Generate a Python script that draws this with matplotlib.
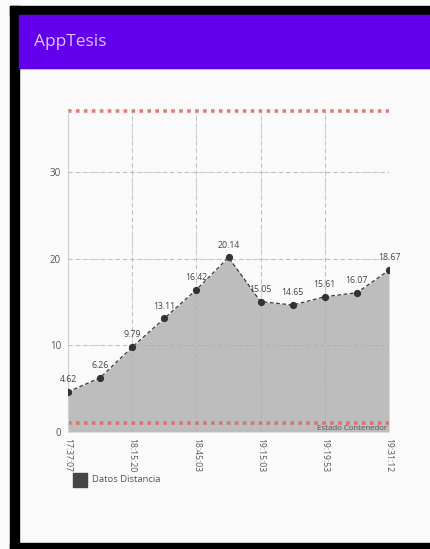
import matplotlib
matplotlib.use("Agg")
import matplotlib.pyplot as plt
from matplotlib.patches import Rectangle

plt.rcParams['font.family'] = ['Open Sans', 'DejaVu Sans']

# Distance readings (one per sample) and their timestamps
valores = [4.62, 6.26, 9.79, 13.11, 16.42, 20.14, 15.05, 14.65, 15.61, 16.07, 18.67]
etiquetas_x = ["17:37:07", "", "18:15:20", "", "18:45:03", "",
               "19:15:03", "", "19:19:53", "", "19:31:12"]
limite_superior = 37
limite_inferior = 1
yticks = [0, 10, 20, 30]
titulo = "AppTesis"
leyenda = "Datos Distancia"
nombre_limite = "Estado Contenedor"

W, H = 430, 549
fig = plt.figure(figsize=(W / 100, H / 100), dpi=100)
fig.patch.set_facecolor("#fafafa")

def px(x0, y0, x1, y1):
    return [x0 / W, 1 - y1 / H, (x1 - x0) / W, (y1 - y0) / H]

# Device frame and app bar
frame = fig.add_axes([0, 0, 1, 1])
frame.set_xlim(0, W)
frame.set_ylim(H, 0)
frame.axis("off")
frame.add_patch(Rectangle((10, 6), W, 9, color="black", zorder=1))
frame.add_patch(Rectangle((10, 6), 9, H, color="black", zorder=1))
frame.add_patch(Rectangle((10, 543), W, 6, color="black", zorder=1))
frame.add_patch(Rectangle((19, 15), W, 53, color="#6200ee", zorder=2))
for i, a in enumerate([0.10, 0.06, 0.03]):
    frame.add_patch(Rectangle((19, 68 + i), W, 1, color="black", alpha=a, lw=0, zorder=2))
frame.text(34, 42, titulo, color="#dcc3fb", fontsize=12.5, va="center", ha="left", zorder=3)

# Chart
ax = fig.add_axes(px(68, 111.3, 389, 432))
ax.set_facecolor("none")
xs = list(range(len(valores)))
ax.set_xlim(0, len(valores) - 1)
ax.set_ylim(0, limite_superior)

ax.fill_between(xs, valores, 0, color="#bdbdbd", lw=0, zorder=1)
ax.plot(xs, valores, color="#3a3a3a", lw=0.9, ls=(0, (3, 2)), zorder=3)
ax.plot(xs, valores, "o", color="#333333", ms=4.2, zorder=4)
for x, v in zip(xs, valores):
    ax.text(x, v + 0.9, f"{v:g}", ha="center", va="bottom", fontsize=6.3,
            color="#444444", zorder=5)

# Limit lines
for lim in (limite_superior, limite_inferior):
    ax.axhline(lim, color="#e06666", lw=2.6, ls=(0, (1, 1.2)), alpha=0.85,
               zorder=2, clip_on=False)
ax.text(len(valores) - 1 - 0.05, limite_inferior - 0.15, nombre_limite, ha="right",
        va="top", fontsize=5.7, color="#555555", zorder=5)

# Grid
for y in yticks[1:]:
    ax.axhline(y, color="#d2d2d2", lw=0.8, ls=(0, (4, 3)), zorder=0.5)
for x, lab in zip(xs, etiquetas_x):
    if lab:
        ax.axvline(x, color="#d2d2d2", lw=0.8, ls=(0, (4, 3)), zorder=0.5)
for y in yticks[1:]:
    ax.plot([0, len(valores) - 1], [y, y], color="#a0a0a0", lw=0.7,
            ls=(0, (4, 3)), alpha=0.45, zorder=1.5)
for x, lab in zip(xs, etiquetas_x):
    if lab and x > 0:
        ax.plot([x, x], [0, limite_superior], color="#a0a0a0", lw=0.7,
                ls=(0, (4, 3)), alpha=0.45, zorder=1.5)

for s in ["top", "right", "bottom"]:
    ax.spines[s].set_visible(False)
ax.spines["left"].set_color("#d0d0d0")
ax.spines["left"].set_linewidth(0.8)

ax.set_yticks(yticks)
ax.set_yticklabels([str(t) for t in yticks], fontsize=7, color="#555555")
ax.set_xticks([x for x, l in zip(xs, etiquetas_x) if l])
ax.set_xticklabels([l for l in etiquetas_x if l], rotation=-90, fontsize=6.2,
                   color="#555555", va="top", ha="center")
ax.tick_params(length=0, pad=5)
ax.tick_params(axis="x", pad=4)

# Legend
frame.add_patch(Rectangle((73, 473), 14, 14, color="#454545", zorder=3))
frame.text(92, 480, leyenda, fontsize=6.8, color="#555555", va="center", ha="left")

fig.savefig("out.png", dpi=100, facecolor=fig.get_facecolor())
